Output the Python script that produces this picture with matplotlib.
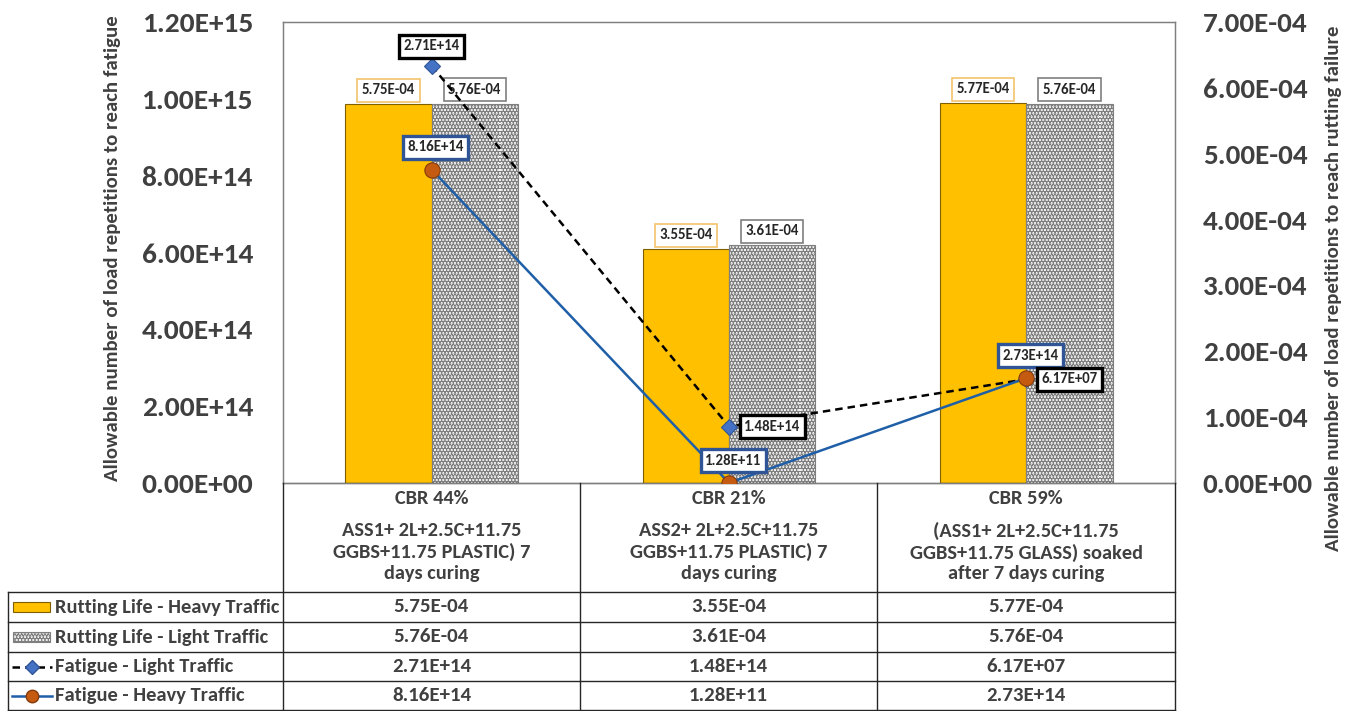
import matplotlib
matplotlib.use("Agg")
import matplotlib.pyplot as plt
import numpy as np
from matplotlib.patches import Rectangle
from matplotlib.lines import Line2D
from matplotlib import font_manager as fm
from matplotlib.font_manager import FontProperties
from matplotlib.textpath import TextPath

_bold = set(f.name for f in fm.fontManager.ttflist if f.weight in (700, 'bold'))
_fam = [f for f in ['Carlito', 'Lato'] if f in _bold][:1] + ['DejaVu Sans']
plt.rcParams['font.family'] = _fam
plt.rcParams['font.weight'] = 'bold'
plt.rcParams['hatch.linewidth'] = 3.0
plt.rcParams['hatch.color'] = 'black'
BW = 'bold'

# ---------------- data ----------------
cat_titles = ["CBR 44%", "CBR 21%", "CBR 59%"]
cat_details = ["ASS1+ 2L+2.5C+11.75\nGGBS+11.75 PLASTIC) 7\ndays curing",
               "ASS2+ 2L+2.5C+11.75\nGGBS+11.75 PLASTIC) 7\ndays curing",
               "(ASS1+ 2L+2.5C+11.75\nGGBS+11.75 GLASS) soaked\nafter 7 days curing"]
rut_heavy = [5.75e-4, 3.55e-4, 5.77e-4]
rut_light = [5.76e-4, 3.61e-4, 5.76e-4]
fat_light = [2.71e14, 1.48e14, 6.17e7]          # labelled values
fat_light_drawn = [1.086e15, 1.47e14, 2.70e14]  # positions as drawn in the chart
fat_heavy = [8.16e14, 1.28e11, 2.73e14]
left_ticks = [0, 2e14, 4e14, 6e14, 8e14, 1e15, 1.2e15]
right_ticks = [0, 1e-4, 2e-4, 3e-4, 4e-4, 5e-4, 6e-4, 7e-4]
series_names = ["Rutting Life - Heavy Traffic", "Rutting Life - Light Traffic",
                "Fatigue - Light Traffic", "Fatigue - Heavy Traffic"]
left_title = 'Allowable number of load repetitions to reach fatigue'
right_title = 'Allowable number of load repetitions to reach rutting failure'

DPI = 100
def fit(s, px):
    """font size (pt) so that string s is about px pixels wide"""
    fp = FontProperties(family=_fam[0], weight='bold', size=10)
    w = TextPath((0, 0), s, size=10, prop=fp).get_extents().width
    return 10 * px / (w * DPI / 72)

FS_LTICK = fit('1.20E+15', 108)
FS_RTICK = fit('7.00E-04', 103)
FS_TAB = fit('Rutting Life - Heavy Traffic', 223)
FS_VAL = fit('5.75E-04', 74)
FS_CAT = fit('ASS1+ 2L+2.5C+11.75', 179)
FS_LAB = fit('1.48E+14', 55)
FS_LT = fit(left_title, 463)
FS_RT = fit(right_title, 523)

W, H = 1354, 711
fig = plt.figure(figsize=(W / DPI, H / DPI), dpi=DPI)
x0, x1, yb, yt = 283, 1175, 483, 22
ax2 = fig.add_axes([x0 / W, 1 - yb / H, (x1 - x0) / W, (yb - yt) / H])
ax = ax2.twinx()
ax2.yaxis.tick_right()
ax.yaxis.tick_left()
ax.set_zorder(ax2.get_zorder() + 1)
ax.patch.set_visible(False)

TXT = '#404040'
YEL = '#FFC000'
x = np.arange(len(cat_titles))
bw = 0.29
ax2.bar(x - bw / 2, rut_heavy, bw, color=YEL, edgecolor='#7F6000', linewidth=0.8)
ax2.bar(x + bw / 2, rut_light, bw, color='white', edgecolor='#7F7F7F', linewidth=0.8,
        hatch='.....')
ax2.set_ylim(0, 7e-4)
ax2.set_xlim(-0.5, 2.5)
ax.set_ylim(0, 1.2e15)
ax2.set_yticks(right_ticks)
ax2.set_yticklabels(['%.2E' % v for v in right_ticks], fontweight=BW)
ax.set_yticks(left_ticks)
ax.set_yticklabels(['%.2E' % v for v in left_ticks], fontweight=BW)
ax.tick_params(length=0, labelsize=FS_LTICK, labelcolor=TXT, pad=21.6)
ax2.tick_params(length=0, labelsize=FS_RTICK, labelcolor=TXT, pad=20)
for a in (ax, ax2):
    a.set_xticks([])
    for s in a.spines.values():
        s.set_color('#7F7F7F')
        s.set_linewidth(0.9)
ax2.spines['bottom'].set_color('black')

ax.plot(x, fat_light_drawn, ls=(0, (3, 2)), color='black', lw=1.8, marker='D', ms=8,
        mfc='#4472C4', mec='#2F5597', mew=0.8, zorder=5)
ax.plot(x, fat_heavy, ls='-', color='#1F5FA8', lw=1.8, marker='o', ms=11,
        mfc='#C55A11', mec='#843C0C', mew=0.8, zorder=6)

def box(a, xy, txt, ec, lw, off, ha='center'):
    a.annotate(txt, xy=xy, xytext=off, textcoords='offset points', ha=ha, va='center',
               fontsize=FS_LAB, color='#262626', fontweight=BW, zorder=10,
               bbox=dict(boxstyle='square,pad=0.3', fc='white', ec=ec, lw=lw))

for i in range(3):
    box(ax2, (x[i] - bw / 2, rut_heavy[i]), '%.2E' % rut_heavy[i], '#F4C26B', 1.2, (0, 10))
    box(ax2, (x[i] + bw / 2, rut_light[i]), '%.2E' % rut_light[i], '#7F7F7F', 1.2, (0, 10))
    box(ax, (x[i], fat_heavy[i]), '%.2E' % fat_heavy[i], '#2F5597', 2.4, (3, 16))
box(ax, (x[0], fat_light_drawn[0]), '%.2E' % fat_light[0], 'black', 2.4, (0, 14))
box(ax, (x[1], fat_light_drawn[1]), '%.2E' % fat_light[1], 'black', 2.4, (11, 0), ha='left')
box(ax, (x[2], fat_light_drawn[2]), '%.2E' % fat_light[2], 'black', 2.4, (11, 0), ha='left')

fig.text(113 / W, 1 - 248 / H, left_title, rotation=90, ha='center', va='center',
         fontsize=FS_LT, color=TXT, fontweight=BW)
fig.text(1333 / W, 1 - 288 / H, right_title, rotation=90, ha='center', va='center',
         fontsize=FS_RT, color=TXT, fontweight=BW)

# ---------------- data table ----------------
def fx(px): return px / W
def fy(py): return 1 - py / H
col_edges = [x0, 580, 877, x1]
row_edges = [592, 622, 652, 681, 710]
lc = '#262626'
for cx in col_edges:
    fig.add_artist(Line2D([fx(cx)] * 2, [fy(483), fy(711)], color=lc, lw=1))
for ry in row_edges:
    fig.add_artist(Line2D([fx(8), fx(x1)], [fy(ry)] * 2, color=lc, lw=1))
fig.add_artist(Line2D([fx(8)] * 2, [fy(592), fy(711)], color=lc, lw=1))

for i in range(3):
    cxp = (col_edges[i] + col_edges[i + 1]) / 2
    fig.text(fx(cxp), fy(498), cat_titles[i], ha='center', va='center', fontsize=FS_CAT,
             color=TXT, fontweight=BW)
    fig.text(fx(cxp), fy(552), cat_details[i], ha='center', va='center', fontsize=FS_CAT,
             color=TXT, linespacing=1.25, fontweight=BW)

rows = [rut_heavy, rut_light, fat_light, fat_heavy]
for r in range(4):
    cy = (row_edges[r] + row_edges[r + 1]) / 2
    fig.text(fx(55), fy(cy), series_names[r], ha='left', va='center', fontsize=FS_TAB,
             color=TXT, fontweight=BW)
    for i in range(3):
        cxp = (col_edges[i] + col_edges[i + 1]) / 2
        fig.text(fx(cxp), fy(cy), '%.2E' % rows[r][i], ha='center', va='center',
                 fontsize=FS_VAL, color=TXT, fontweight=BW)

# legend keys
ky = [(row_edges[r] + row_edges[r + 1]) / 2 for r in range(4)]
fig.add_artist(Rectangle((fx(13), fy(ky[0] + 5)), fx(50) - fx(13), (10 / H),
                         fc=YEL, ec='#7F6000', lw=0.8))
fig.add_artist(Rectangle((fx(13), fy(ky[1] + 5)), fx(50) - fx(13), (10 / H),
                         fc='white', ec='#7F7F7F', lw=0.8, hatch='.....'))
fig.add_artist(Line2D([fx(12), fx(52)], [fy(ky[2])] * 2, ls=(0, (3, 2)), color='black', lw=1.8))
fig.add_artist(Line2D([fx(32)], [fy(ky[2])], marker='D', ms=7, mfc='#4472C4', mec='#2F5597', ls=''))
fig.add_artist(Line2D([fx(12), fx(52)], [fy(ky[3])] * 2, color='#1F5FA8', lw=1.8))
fig.add_artist(Line2D([fx(32)], [fy(ky[3])], marker='o', ms=9, mfc='#C55A11', mec='#843C0C', ls=''))

fig.savefig('out.png', dpi=DPI)
